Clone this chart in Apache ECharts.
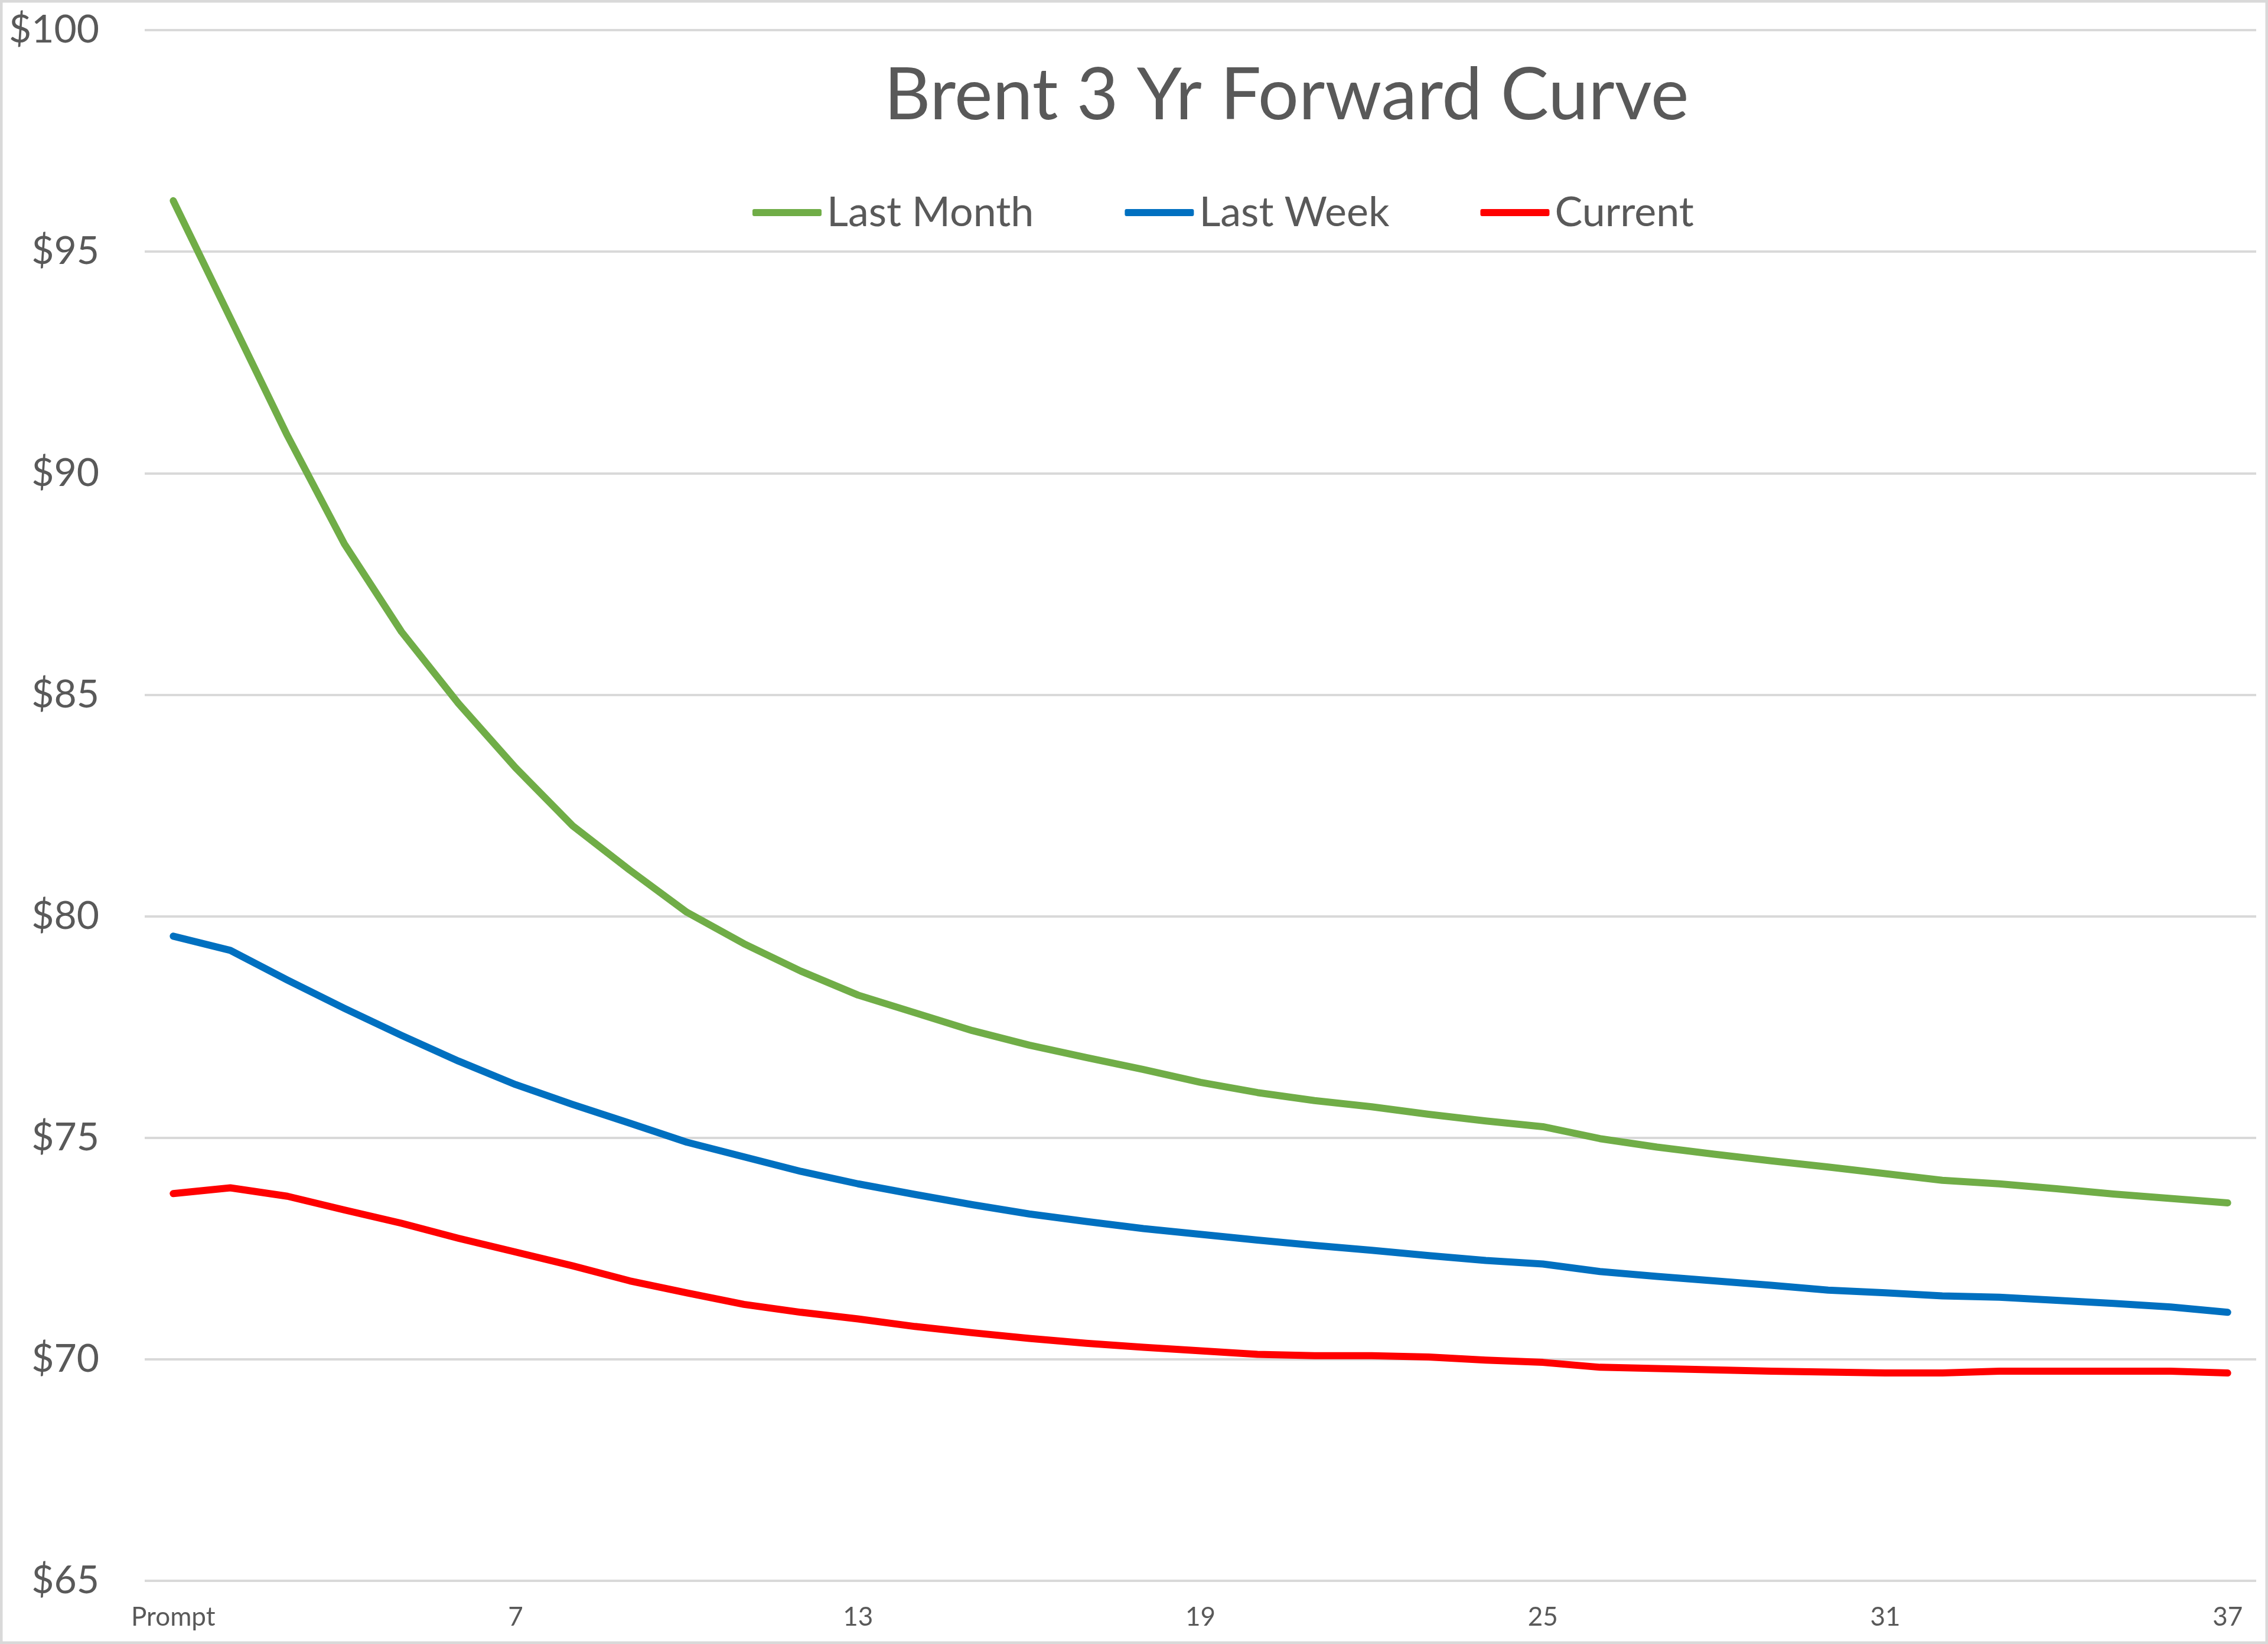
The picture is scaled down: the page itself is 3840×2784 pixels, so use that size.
<!DOCTYPE html>
<html>
<head>
<meta charset="utf-8">
<script src="https://cdn.jsdelivr.net/npm/echarts@6/dist/echarts.min.js"></script>
<style>
  html, body { margin: 0; padding: 0; background: #ffffff; }
  #chart { width: 3840px; height: 2784px; }
</style>
</head>
<body>
<div id="chart"></div>
<script>
// contract months, first one is the prompt month
var months = ['Prompt', '2', '3', '4', '5', '6', '7', '8', '9', '10',
  '11', '12', '13', '14', '15', '16', '17', '18', '19', '20',
  '21', '22', '23', '24', '25', '26', '27', '28', '29', '30',
  '31', '32', '33', '34', '35', '36', '37'];

var lastMonth = [96.15, 93.5, 90.85, 88.4, 86.42, 84.8, 83.35, 82.04, 81.04, 80.09,
  79.38, 78.76, 78.22, 77.82, 77.42, 77.09, 76.81, 76.54, 76.25, 76.02,
  75.84, 75.70, 75.53, 75.38, 75.25, 74.98, 74.79, 74.63, 74.48, 74.34,
  74.19, 74.04, 73.96, 73.85, 73.73, 73.63, 73.53];

var lastWeek = [79.55, 79.23, 78.56, 77.92, 77.31, 76.73, 76.2, 75.75, 75.33, 74.9,
  74.57, 74.24, 73.96, 73.72, 73.49, 73.28, 73.11, 72.95, 72.82, 72.69,
  72.57, 72.46, 72.34, 72.23, 72.15, 71.98, 71.87, 71.77, 71.67, 71.56,
  71.5, 71.43, 71.4, 71.33, 71.26, 71.18, 71.06];

var current = [73.74, 73.87, 73.68, 73.37, 73.07, 72.73, 72.42, 72.11, 71.77, 71.5,
  71.24, 71.06, 70.91, 70.74, 70.6, 70.47, 70.36, 70.27, 70.19, 70.11,
  70.08, 70.08, 70.05, 69.98, 69.93, 69.82, 69.79, 69.76, 69.73, 69.71,
  69.69, 69.69, 69.73, 69.73, 69.73, 69.73, 69.69];

var chartDom = document.getElementById('chart');
var myChart = echarts.init(chartDom);
var option;

var textColor = '#595959';
var fontName = 'Lato';

function curve(name, data, color) {
  return {
    name: name,
    type: 'line',
    data: data,
    showSymbol: false,
    symbol: 'none',
    smooth: false,
    lineStyle: { color: color, width: 12, cap: 'round', join: 'round' },
    itemStyle: { color: color },
    emphasis: { disabled: true }
  };
}

option = {
  animation: false,
  backgroundColor: '#ffffff',
  textStyle: { fontFamily: fontName },
  title: {
    text: 'Brent 3 Yr Forward Curve',
    left: 2173,
    textAlign: 'center',
    top: 97,
    textStyle: { color: textColor, fontSize: 122, fontWeight: 'normal', fontFamily: fontName }
  },
  legend: {
    left: 1269,
    top: 320,
    icon: 'roundRect',
    itemWidth: 117,
    itemHeight: 12,
    itemGap: 154,
    textStyle: { color: textColor, fontSize: 70, fontFamily: fontName, padding: [0, 0, 0, 4] },
    data: ['Last Month', 'Last Week', 'Current']
  },
  grid: {
    left: 245,
    right: 20,
    top: 51,
    bottom: 107,
    containLabel: false
  },
  xAxis: {
    type: 'category',
    data: months,
    boundaryGap: true,
    axisLine: { show: false },
    axisTick: { show: false },
    axisLabel: {
      interval: 5,
      color: textColor,
      fontSize: 44,
      fontFamily: fontName,
      margin: 40
    },
    splitLine: { show: false }
  },
  yAxis: {
    type: 'value',
    min: 65,
    max: 100,
    interval: 5,
    axisLine: { show: false },
    axisTick: { show: false },
    axisLabel: {
      color: textColor,
      fontSize: 66,
      fontFamily: fontName,
      margin: 77,
      formatter: function (v) { return '$' + v; }
    },
    splitLine: { lineStyle: { color: '#d9d9d9', width: 4 } }
  },
  graphic: [{
    type: 'rect',
    silent: true,
    shape: { x: 2, y: 2, width: 3836, height: 2780 },
    style: { fill: null, stroke: '#d9d9d9', lineWidth: 5 }
  }],
  series: [
    curve('Last Month', lastMonth, '#70ad47'),
    curve('Last Week', lastWeek, '#0070c0'),
    curve('Current', current, '#ff0000')
  ]
};

option && myChart.setOption(option);
</script>
</body>
</html>
